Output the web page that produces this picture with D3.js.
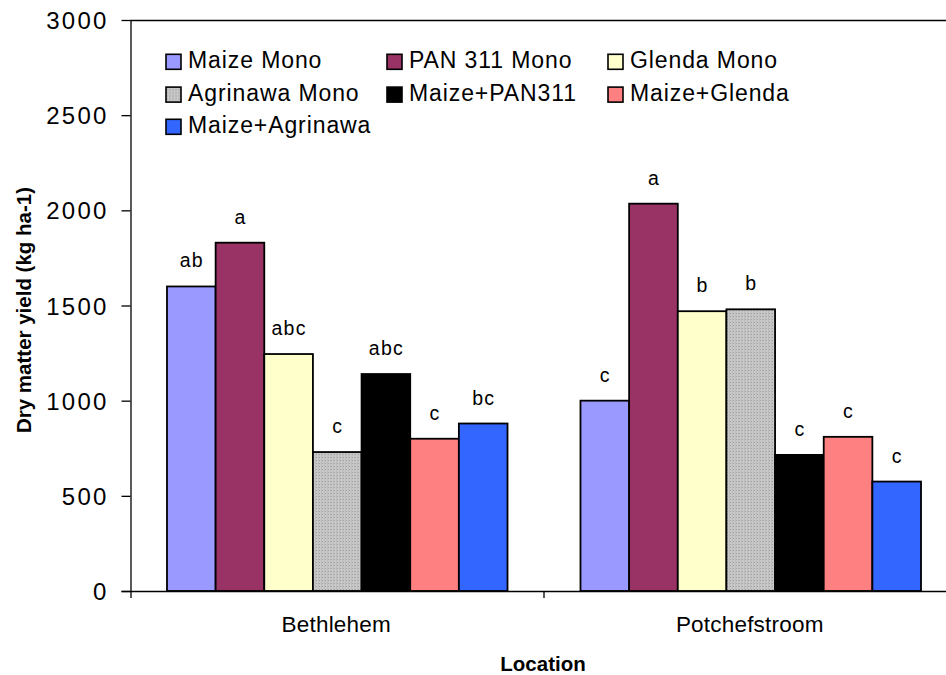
<!DOCTYPE html>
<html>
<head>
<meta charset="utf-8">
<script src="https://cdn.jsdelivr.net/npm/d3@7/dist/d3.min.js"></script>
<style>
  html, body { margin: 0; padding: 0; background: #fff; }
  svg { display: block; }
  text { font-family: "Liberation Sans", Arial, sans-serif; fill: #000; }
</style>
</head>
<body>
<svg id="chart" width="946" height="675"></svg>
<script>
// Dry matter yield by location and cropping system
const locations = ["Bethlehem", "Potchefstroom"];
const seriesNames = ["Maize Mono", "PAN 311 Mono", "Glenda Mono", "Agrinawa Mono",
                     "Maize+PAN311", "Maize+Glenda", "Maize+Agrinawa"];
const bethlehemValues = [1600, 1830, 1245, 730, 1140, 800, 880];
const potchefstroomValues = [1000, 2035, 1470, 1480, 715, 810, 575];
const bethlehemLetters = ["ab", "a", "abc", "c", "abc", "c", "bc"];
const potchefstroomLetters = ["c", "a", "b", "b", "c", "c", "c"];
const yTicks = [0, 500, 1000, 1500, 2000, 2500, 3000];
const seriesColors = ["#9999FF", "#993366", "#FFFFCC", "url(#dots)", "#000000", "#FF8080", "#3366FF"];

const valuesByLocation = [bethlehemValues, potchefstroomValues];
const lettersByLocation = [bethlehemLetters, potchefstroomLetters];

const svg = d3.select("#chart");
const plotLeft = 130.5, plotTop = 20, plotBottom = 591, bandW = 413.5;

// gray dotted fill
const defs = svg.append("defs");
const pat = defs.append("pattern").attr("id", "dots")
  .attr("width", 3).attr("height", 3).attr("patternUnits", "userSpaceOnUse");
pat.append("rect").attr("width", 3).attr("height", 3).attr("fill", "#c9c9c9");
pat.append("rect").attr("x", 1).attr("y", 1).attr("width", 1).attr("height", 1).attr("fill", "#9e9e9e");
pat.append("rect").attr("x", 0).attr("y", 0).attr("width", 1).attr("height", 3).attr("fill", "#bcbcbc");

const x0 = d3.scaleBand().domain(locations).range([plotLeft, plotLeft + bandW * 2]).padding(0);
const x1 = d3.scaleBand().domain(seriesNames).range([0, x0.bandwidth()])
  .paddingInner(0).paddingOuter(0.75);
const y = d3.scaleLinear().domain([0, 3000]).range([plotBottom, plotTop]);

// plot frame top line
svg.append("line").attr("x1", plotLeft).attr("x2", 946).attr("y1", plotTop + 0.5).attr("y2", plotTop + 0.5)
  .attr("stroke", "#000").attr("stroke-width", 1.3);

// bars
const rows = [];
locations.forEach((loc, i) => {
  seriesNames.forEach((s, j) => {
    rows.push({ loc, s, j, v: valuesByLocation[i][j], lab: lettersByLocation[i][j] });
  });
});

svg.append("g").selectAll("rect").data(rows).join("rect")
  .attr("x", d => x0(d.loc) + x1(d.s))
  .attr("y", d => y(d.v))
  .attr("width", x1.bandwidth())
  .attr("height", d => y(0) - y(d.v))
  .attr("fill", d => seriesColors[d.j])
  .attr("stroke", "#000").attr("stroke-width", 1.8);

svg.append("g").selectAll("text").data(rows).join("text")
  .attr("x", d => x0(d.loc) + x1(d.s) + x1.bandwidth() / 2 + 0.5)
  .attr("y", d => y(d.v) - 19)
  .attr("text-anchor", "middle")
  .style("font-size", "19.5px").style("letter-spacing", "1.2px")
  .text(d => d.lab);

// y axis
const yAxis = d3.axisLeft(y).tickValues(yTicks).tickSize(9).tickPadding(13).tickFormat(d3.format("d"));
const gy = svg.append("g").attr("transform", `translate(${plotLeft},0)`).call(yAxis);
gy.select(".domain").attr("d", `M0.5,${plotTop}V${plotBottom + 7}`).attr("stroke", "#000").attr("stroke-width", 1.3);
gy.selectAll(".tick line").attr("stroke", "#000").attr("stroke-width", 1.3);
gy.selectAll(".tick text").style("font-size", "24px").style("letter-spacing", "2.2px")
  .style("font-family", "'Liberation Sans', Arial, sans-serif").attr("fill", "#000").attr("dy", "0.36em");

// x axis
svg.append("line").attr("x1", plotLeft - 9).attr("x2", 946).attr("y1", plotBottom + 0.5).attr("y2", plotBottom + 0.5)
  .attr("stroke", "#000").attr("stroke-width", 1.5);
const boundaries = [x0(locations[1])];
svg.append("g").selectAll("line").data(boundaries).join("line")
  .attr("x1", d => d).attr("x2", d => d).attr("y1", plotBottom).attr("y2", plotBottom + 7)
  .attr("stroke", "#000").attr("stroke-width", 1.3);
svg.append("g").selectAll("text").data(locations).join("text")
  .attr("x", d => x0(d) + x0.bandwidth() / 2 - 1)
  .attr("y", 632)
  .attr("text-anchor", "middle")
  .style("font-size", "22.5px").style("letter-spacing", "0.2px")
  .text(d => d);

// axis titles
svg.append("text").attr("x", 543).attr("y", 671).attr("text-anchor", "middle")
  .style("font-size", "20.5px").style("font-weight", "bold").text("Location");
svg.append("text").attr("transform", "translate(31,310) rotate(-90)").attr("text-anchor", "middle")
  .style("font-size", "20.5px").style("font-weight", "bold").text("Dry matter yield (kg ha-1)");

// legend
const legendCols = [166, 387, 608];
const legendRows = [67.7, 100.5, 132.7];
const lg = svg.append("g").selectAll("g").data(seriesNames).join("g")
  .attr("transform", (d, i) => `translate(${legendCols[i % 3]},${legendRows[Math.floor(i / 3)]})`);
lg.append("rect").attr("x", 0).attr("y", -13.4).attr("width", 15).attr("height", 15)
  .attr("fill", (d, i) => seriesColors[i]).attr("stroke", "#000").attr("stroke-width", 1.6);
lg.append("text").attr("x", 22).attr("y", 0)
  .style("font-size", "23px").style("letter-spacing", "0.9px")
  .text(d => d);
</script>
</body>
</html>
